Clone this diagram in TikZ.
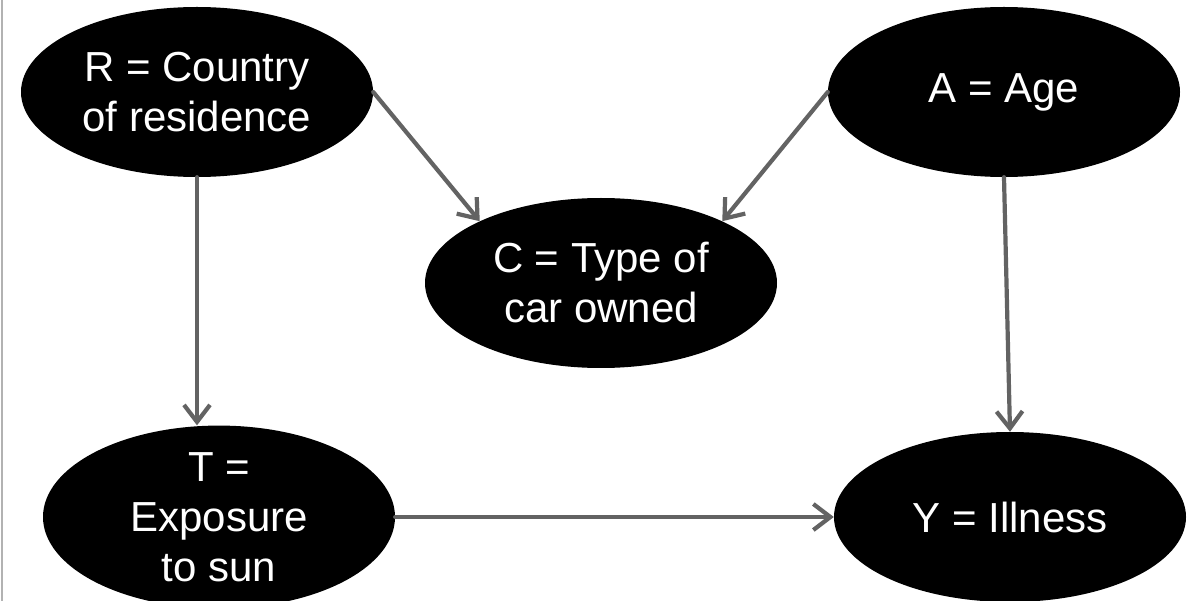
\documentclass[tikz,border=0pt]{standalone}
\usepackage{fontspec}
\setmainfont{Liberation Sans}
\usetikzlibrary{arrows.meta,shapes.geometric}
\definecolor{arrowgray}{HTML}{636363}
\begin{document}
\begin{tikzpicture}[x=1pt,y=-1pt,
  var/.style={ellipse, fill=black, text=white, minimum width=352pt, minimum height=170pt,
    inner sep=0pt, align=center, font=\fontsize{42pt}{50pt}\selectfont},
  edge/.style={draw=arrowgray, line width=4.2pt, line cap=round,
    -{Straight Barb[length=17pt,width=26pt,line width=4.2pt]}}]
\useasboundingbox (0,0) rectangle (1194,601);
\draw[gray!60, line width=1.5pt] (2,0) -- (2,601);
\node[var] (R) at (197,92) {R = Country\\of residence};
\node[var] (A) at (1004,92) {A = Age};
\node[var] (C) at (601,283) {C = Type of\\car owned};
\node[var] (T) at (219,517) {T =\\Exposure\\to sun};
\node[var] (Y) at (1010,517) {Y = Illness};
\draw[edge] (R.east) -- (C.153);
\draw[edge] (A.west) -- (C.27);
\draw[edge] (R.south) -- (R.south |- T.north);
\draw[edge] (A.south) -- (Y.north);
\draw[edge] (T.east) -- (Y.west);
\end{tikzpicture}
\end{document}
